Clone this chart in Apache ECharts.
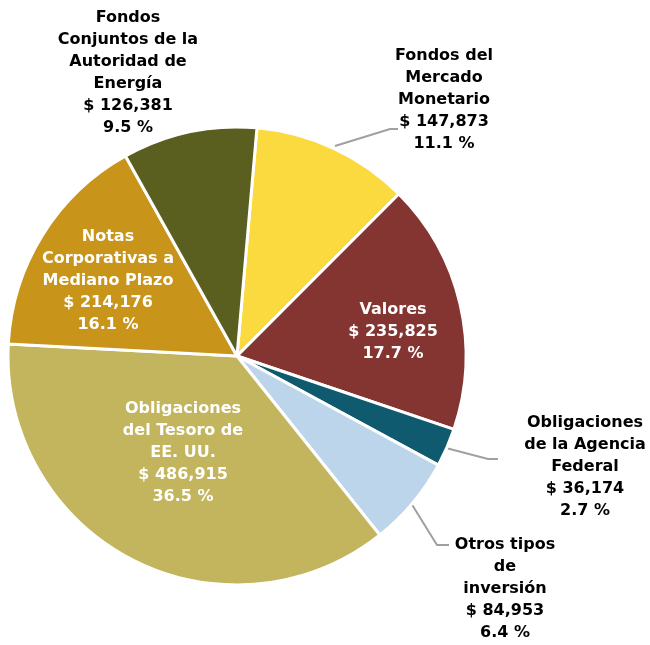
<!DOCTYPE html>
<html>
<head>
<meta charset="utf-8">
<script src="https://cdn.jsdelivr.net/npm/echarts@6/dist/echarts.min.js"></script>
<style>
  html, body { margin: 0; padding: 0; background: #fff; }
  #main { width: 650px; height: 645px; }
</style>
</head>
<body>
<div id="main"></div>
<script>
// categories in clockwise order from the top
const categories = [
  "Fondos del\nMercado\nMonetario",
  "Valores",
  "Obligaciones\nde la Agencia\nFederal",
  "Otros tipos\nde\ninversión",
  "Obligaciones\ndel Tesoro de\nEE. UU.",
  "Notas\nCorporativas a\nMediano Plazo",
  "Fondos\nConjuntos de la\nAutoridad de\nEnergía"
];
const amounts = [147873, 235825, 36174, 84953, 486915, 214176, 126381];
const sliceColors = ["#FADA3E", "#843431", "#0F5A6E", "#BDD5EA", "#C2B55E", "#C8941A", "#5A5E1F"];
const insideLabel = [false, true, false, false, true, true, false];

// where each label block is centred
const labelPos = [
  [444, 100], [393, 332], [585, 467], [505, 589], [183, 453], [108, 281], [128, 73]
];
// leader lines for the outside labels (null = none)
const leaderLines = [
  [[335, 146], [390, 129], [398, 129]],
  null,
  [[446, 448], [488, 459], [498, 459]],
  [[411, 503], [437, 545], [449, 545]],
  null, null, null
];

const chart = echarts.init(document.getElementById("main"));

const seriesData = categories.map((name, i) => ({
  name: name,
  value: amounts[i],
  itemStyle: { color: sliceColors[i] },
  label: {
    position: insideLabel[i] ? "inside" : "outside",
    color: insideLabel[i] ? "#fff" : "#000"
  },
  labelLine: { show: leaderLines[i] != null }
}));

chart.setOption({
  animation: false,
  series: [
    {
      type: "pie",
      center: [237, 356],
      radius: 229,
      startAngle: 85,
      clockwise: true,
      percentPrecision: 1,
      itemStyle: { borderColor: "#fff", borderWidth: 3 },
      label: {
        fontFamily: "DejaVu Sans",
        fontWeight: "bold",
        fontSize: 16,
        lineHeight: 22,
        align: "center",
        formatter: (p) =>
          p.name + "\n$ " + p.value.toLocaleString("en-US") + "\n" + p.percent.toFixed(1) + " %"
      },
      labelLine: {
        lineStyle: { color: "#A0A0A0", width: 2 }
      },
      labelLayout: (params) => {
        const i = params.dataIndex;
        const pos = labelPos[i];
        const out = { x: pos[0], y: pos[1], align: "center", verticalAlign: "middle" };
        if (leaderLines[i]) out.labelLinePoints = leaderLines[i];
        return out;
      },
      data: seriesData
    }
  ]
});
</script>
</body>
</html>
